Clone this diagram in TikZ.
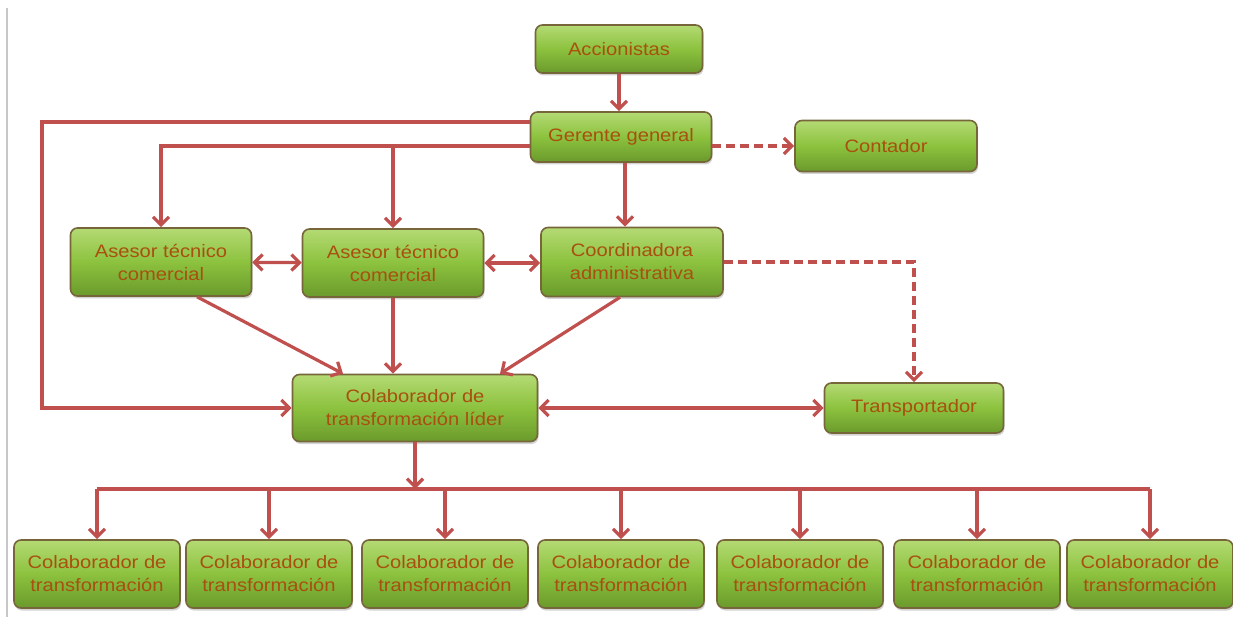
\documentclass[tikz,border=0pt]{standalone}
\usepackage{fontspec}
\setmainfont{Liberation Sans}[FakeStretch=1.12]
\usetikzlibrary{arrows.meta, calc, shadows}

\definecolor{linkred}{HTML}{C0504D}
\definecolor{boxtext}{HTML}{A8500F}
\definecolor{boxedge}{HTML}{76663A}
\definecolor{boxtop}{HTML}{B4DA74}
\definecolor{boxmid}{HTML}{8CC23E}
\definecolor{boxbot}{HTML}{6A9A2C}

\begin{document}
\begin{tikzpicture}[x=1pt, y=1pt,
        box/.style={rectangle, rounded corners=7pt, draw=boxedge, line width=1.6pt,
            top color=boxtop, bottom color=boxbot, middle color=boxmid,
            drop shadow={shadow xshift=1pt, shadow yshift=-2.5pt, opacity=0.35},
            text=boxtext, align=center, inner sep=2pt,
            font=\fontsize{18}{23}\selectfont},
        link/.style={draw=linkred, line width=3.2pt, -{Straight Barb[length=8pt, width=16pt]}},
        both/.style={link, {Straight Barb[length=8pt, width=16pt]}-{Straight Barb[length=8pt, width=16pt]}},
        dashlink/.style={link, dash pattern=on 9pt off 5pt}]
        \useasboundingbox (0,0) rectangle (1233,-617);
        \draw [black!22, line width=2pt] (7,-8) -- (7,-617);
        % boxes
        \node [box, minimum width=167, minimum height=48] (acc) at (619,-49) {Accionistas};
        \node [box, minimum width=181, minimum height=50] (ger) at (621,-137) {Gerente general};
        \node [box, minimum width=182, minimum height=51] (cont) at (886,-146) {Contador};
        \node [box, minimum width=181, minimum height=68] (ase1) at (161,-262) {Asesor técnico\\comercial};
        \node [box, minimum width=181, minimum height=68] (ase2) at (393,-263) {Asesor técnico\\comercial};
        \node [box, minimum width=182, minimum height=69] (coord) at (632,-262) {Coordinadora\\administrativa};
        \node [box, minimum width=245, minimum height=67] (lider) at (415,-408) {Colaborador de\\transformación líder};
        \node [box, minimum width=179, minimum height=50] (trans) at (914,-408) {Transportador};
        \foreach \i/\x in {1/97, 2/269, 3/445, 4/621, 5/800, 6/977, 7/1150}
            \node [box, minimum width=166, minimum height=68] (col\i) at (\x,-574) {Colaborador de\\transformación};
        % connectors
        \coordinate (lft) at (42,-122);
        \coordinate (mid) at (0,-146);
        \coordinate (bus) at (0,-489);
        \coordinate (gs) at ($(ger.south)+(4,0)$);
        \draw [link] (acc) -- (acc |- ger.north);
        \draw [dashlink] (ger.east |- cont.west) -- (cont.west);
        \draw [link] (gs) -- (gs |- coord.north);
        \draw [link] (ger.west |- lft) -- (lft) |- (lider.west);
        \draw [link] (ger.west |- mid) -| (ase1.north);
        \draw [link] (ase2.north |- mid) -- (ase2.north);
        \draw [both] (ase1) -- (ase2);
        \draw [both] (ase2.east) -- (ase2.east -| coord.west);
        \draw [link] ($(ase1.south)+(36,0)$) -- ($(lider.north)+(-72,0)$);
        \draw [link] (ase2.south) -- (ase2.south |- lider.north);
        \draw [link] ($(coord.south)+(-12,0)$) -- ($(lider.north)+(85,0)$);
        \draw [dashlink] (coord.east) -| (trans.north);
        \draw [both] (lider) -- (trans);
        \draw [link] (lider.south) -- (lider.south |- bus);
        \draw [draw=linkred, line width=3.2pt] (col1.north |- bus) -- (col7.north |- bus);
        \foreach \i in {1,...,7}
            \draw [link] (col\i.north |- bus) -- (col\i.north);
\end{tikzpicture}
\end{document}
